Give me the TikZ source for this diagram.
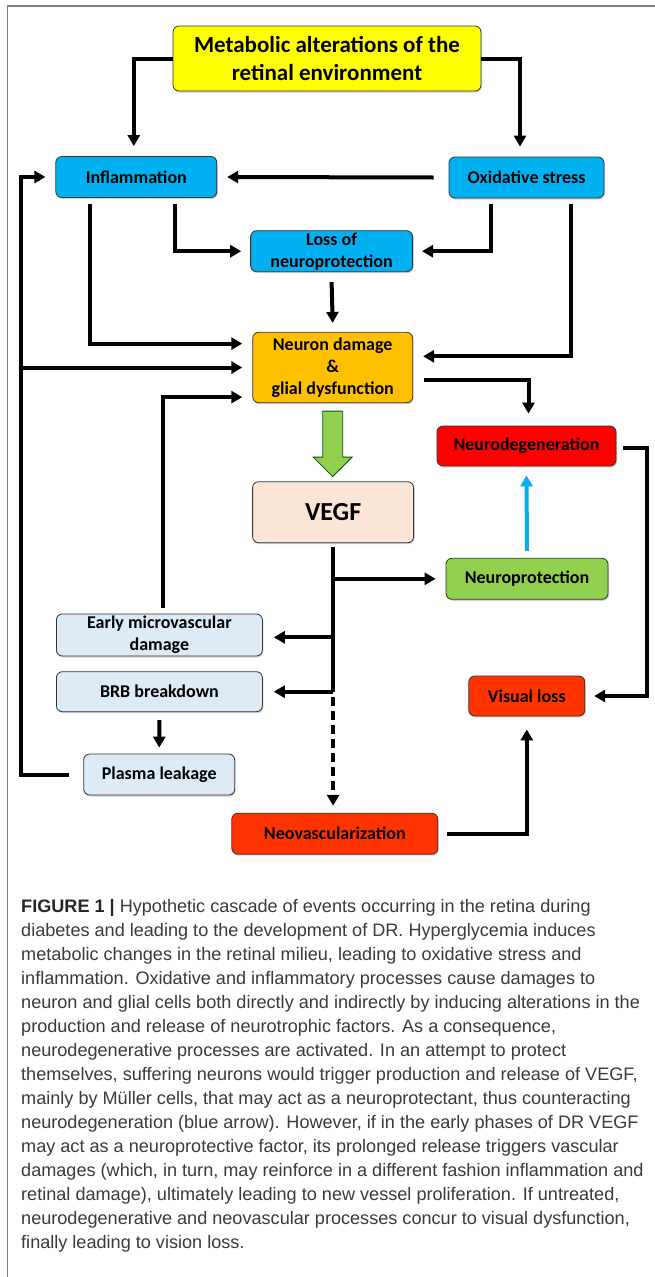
\documentclass[tikz,border=0pt]{standalone}
\usepackage{fontspec}
\setmainfont{Liberation Sans}
\newfontfamily\boxfont{Carlito}
\usetikzlibrary{arrows.meta,calc,shadows}
\definecolor{cyanbox}{HTML}{00B0F0}
\definecolor{yel}{HTML}{FFFF00}
\definecolor{gold}{HTML}{FFC000}
\definecolor{redbox}{HTML}{FF0000}
\definecolor{peach}{HTML}{FBE5D6}
\definecolor{greenbox}{HTML}{92D050}
\definecolor{paleblue}{HTML}{DDEBF7}
\definecolor{orangered}{HTML}{FF3300}
\definecolor{captxt}{HTML}{3A3A3A}
\definecolor{framegray}{HTML}{808080}
\tikzset{
  box/.style={draw=black!80, line width=0.8pt, rounded corners=6pt, align=center,
    inner sep=0pt, font=\boxfont\bfseries\fontsize{18}{22}\selectfont,
    drop shadow={opacity=0.35, shadow xshift=1pt, shadow yshift=-1.5pt}},
  conn/.style={line width=4pt, black},
  arr/.style={conn, -{Triangle[length=11pt,width=12pt]}},
  bluearr/.style={line width=4pt, cyanbox, -{Triangle[length=11pt,width=12pt]}},
  capline/.style={anchor=base west, inner sep=0pt, text=captxt,
    font=\fontsize{18.1}{21}\selectfont},
}
\begin{document}
\begin{tikzpicture}[x=1pt,y=-1pt]
\useasboundingbox (0,0) rectangle (655,1277);
\fill[white] (0,0) rectangle (655,1277);
\draw[framegray, line width=1.6pt] (7.3,1277) -- (7.3,6) -- (655,6);

% nodes
\node[box, fill=yel, minimum width=308pt, minimum height=65pt,
  font=\boxfont\bfseries\fontsize{23}{27.5}\selectfont] (meta) at (327,58.5)
  {Metabolic alterations of the\\retinal environment};
\node[box, fill=cyanbox, minimum width=161pt, minimum height=41pt] (infl) at (136.3,177) {Inflammation};
\node[box, fill=cyanbox, minimum width=155pt, minimum height=41pt] (oxid) at (526.5,177.5) {Oxidative stress};
\node[box, fill=cyanbox, minimum width=162pt, minimum height=41pt] (loss) at (331.6,251.2) {Loss of\\neuroprotection};
\node[box, fill=gold, minimum width=160pt, minimum height=70.4pt] (neuron) at (332.7,367.5) {Neuron damage\\\&\\glial dysfunction};
\node[box, fill=redbox, minimum width=179pt, minimum height=40pt] (neurodeg) at (526.5,446) {Neurodegeneration};
\node[box, fill=peach, minimum width=161pt, minimum height=61pt,
  font=\boxfont\bfseries\fontsize{26}{30}\selectfont] (vegf) at (333.1,512.2) {VEGF};
\node[box, fill=greenbox, minimum width=162pt, minimum height=41pt] (neuroprot) at (527,578.8) {Neuroprotection};
\node[box, fill=paleblue, minimum width=206pt, minimum height=42pt] (early) at (159.4,635) {Early microvascular\\damage};
\node[box, fill=paleblue, minimum width=206pt, minimum height=40pt] (brb) at (159.4,691.7) {BRB breakdown};
\node[box, fill=orangered, minimum width=116pt, minimum height=40pt] (visual) at (526.8,696) {Visual loss};
\node[box, fill=paleblue, minimum width=151pt, minimum height=41pt] (plasma) at (159.2,774.5) {Plasma leakage};
\node[box, fill=orangered, minimum width=206pt, minimum height=41pt] (neovasc) at (334.8,833.7) {Neovascularization};

% helper coordinates
\coordinate (L) at (21,0);
\coordinate (T) at ([yshift=-3.5pt]vegf.south);

% connectors
\draw[arr] (meta.west) -| ([xshift=-2.5pt,yshift=10pt]infl.north);
\draw[arr] (meta.east) -| ([xshift=-6.5pt,yshift=10pt]oxid.north);
\draw[arr] ([xshift=-15pt]oxid.west) -- ([xshift=10pt]infl.east);
\draw[arr] ([xshift=-14pt]plasma.west) -| (L |- infl.west) -- ([xshift=-10pt]infl.west);
\draw[arr] (L |- neuron.west) -- ([xshift=-10pt]neuron.west);
\draw[arr] ([xshift=38.3pt,yshift=-6pt]infl.south) |- ([xshift=-9pt]loss.west);
\draw[arr] ([xshift=-35.5pt,yshift=-6pt]oxid.south) |- ([xshift=9pt]loss.east);
\draw[arr] ([yshift=-10pt]loss.south) -- ([yshift=9pt]neuron.north);
\draw[arr] ([xshift=-46.3pt,yshift=-6pt]infl.south) |- ([xshift=-10pt,yshift=-11.7pt]neuron.north west);
\draw[arr] ([xshift=44.5pt,yshift=-6pt]oxid.south) |- ([xshift=10pt,yshift=-24.4pt]neuron.north east);
\draw[arr] ([xshift=3.6pt,yshift=6pt]early.north) |- ([xshift=-10pt,yshift=6pt]neuron.south west);
\draw[arr] ([xshift=11pt,yshift=-12.5pt]neuron.east) -| ([xshift=2pt,yshift=12pt]neurodeg.north);

% green block arrow
\draw[draw=green!35!black, line width=0.8pt, fill=greenbox]
  ($(neuron.south)+(-10,8)$) -- ($(neuron.south)+(10,8)$) -- ($(neuron.south)+(10,54)$)
  -- ($(neuron.south)+(19.5,54)$) -- ($(neuron.south)+(0,73.5)$) -- ($(neuron.south)+(-19.5,54)$)
  -- ($(neuron.south)+(-10,54)$) -- cycle;

% VEGF branches
\draw[conn] (T) -- (T |- brb.east);
\draw[arr] (T |- neuroprot.west) -- ([xshift=-10pt]neuroprot.west);
\draw[arr] ($(T |- early.east)+(0,2.3)$) -- ([xshift=11pt,yshift=-2.3pt]early.east);
\draw[arr] (T |- brb.east) -- ([xshift=11pt]brb.east);
\draw[arr, dash pattern=on 9pt off 5pt, dash phase=-5pt] (T |- brb.east) -- ($(T |- neovasc.north)+(0,-7)$);

\draw[bluearr] ([yshift=7pt]neuroprot.north) -- ([yshift=-9pt]neurodeg.south);
\draw[arr] ([xshift=7pt,yshift=-1.5pt]neurodeg.east) -- ++(24,0) |- ([xshift=9pt]visual.east);
\draw[arr] ([yshift=-8pt]brb.south) -- ([yshift=6pt]plasma.north);
\draw[arr] ([xshift=9pt]neovasc.east) -| ([yshift=-13pt]visual.south);

% caption
\node[capline] (c1) at (21,912) {\textbf{\color{black!85}FIGURE 1 |} Hypothetic cascade of events occurring in the retina during};
\node[capline] (c2) at (21,936) {diabetes and leading to the development of DR. Hyperglycemia induces};
\node[capline] (c3) at (21,960) {metabolic changes in the retinal milieu, leading to oxidative stress and};
\node[capline] (c4) at (21,984) {inflammation. Oxidative and inflammatory processes cause damages to};
\node[capline] (c5) at (21,1008) {neuron and glial cells both directly and indirectly by inducing alterations in the};
\node[capline] (c6) at (21,1032) {production and release of neurotrophic factors. As a consequence,};
\node[capline] (c7) at (21,1056) {neurodegenerative processes are activated. In an attempt to protect};
\node[capline] (c8) at (21,1080) {themselves, suffering neurons would trigger production and release of VEGF,};
\node[capline] (c9) at (21,1104) {mainly by Müller cells, that may act as a neuroprotectant, thus counteracting};
\node[capline] (c10) at (21,1128) {neurodegeneration (blue arrow). However, if in the early phases of DR VEGF};
\node[capline] (c11) at (21,1152) {may act as a neuroprotective factor, its prolonged release triggers vascular};
\node[capline] (c12) at (21,1176) {damages (which, in turn, may reinforce in a different fashion inflammation and};
\node[capline] (c13) at (21,1200) {retinal damage), ultimately leading to new vessel proliferation. If untreated,};
\node[capline] (c14) at (21,1224) {neurodegenerative and neovascular processes concur to visual dysfunction,};
\node[capline] (c15) at (21,1248) {finally leading to vision loss.};
\end{tikzpicture}
\end{document}
